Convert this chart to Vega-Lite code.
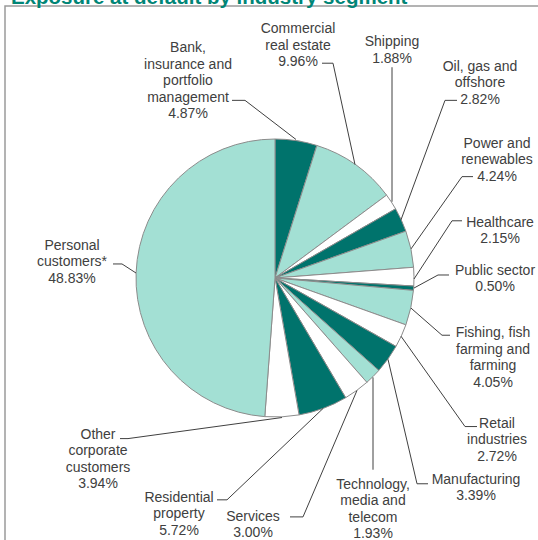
{
  "$schema": "https://vega.github.io/schema/vega-lite/v6.json",
  "width": 538,
  "height": 540,
  "autosize": {"type": "none"},
  "padding": {"left": 5, "top": 6, "right": 0, "bottom": 0},
  "config": {
    "view": {"stroke": "#9a9a9a", "strokeWidth": 1.5},
    "text": {"font": "Liberation Sans"}
  },
  "datasets": {
    "segments": [
      {"rank": 1, "segment": "Bank, insurance and portfolio management", "value": 4.87},
      {"rank": 2, "segment": "Commercial real estate", "value": 9.96},
      {"rank": 3, "segment": "Shipping", "value": 1.88},
      {"rank": 4, "segment": "Oil, gas and offshore", "value": 2.82},
      {"rank": 5, "segment": "Power and renewables", "value": 4.24},
      {"rank": 6, "segment": "Healthcare", "value": 2.15},
      {"rank": 7, "segment": "Public sector", "value": 0.50},
      {"rank": 8, "segment": "Fishing, fish farming and farming", "value": 4.05},
      {"rank": 9, "segment": "Retail industries", "value": 2.72},
      {"rank": 10, "segment": "Manufacturing", "value": 3.39},
      {"rank": 11, "segment": "Technology, media and telecom", "value": 1.93},
      {"rank": 12, "segment": "Services", "value": 3.00},
      {"rank": 13, "segment": "Residential property", "value": 5.72},
      {"rank": 14, "segment": "Other corporate customers", "value": 3.94},
      {"rank": 15, "segment": "Personal customers*", "value": 48.83}
    ],
    "heading": [
      {"text": "Exposure at default by industry segment", "lx": -264, "ly": 272.5}
    ],
    "labels": [
      {"label": "Bank,|insurance and|portfolio|management|4.87%", "lx": -87, "ly": 229},
      {"label": "Commercial|real estate|9.96%", "lx": 23, "ly": 248},
      {"label": "Shipping|1.88%", "lx": 117, "ly": 235},
      {"label": "Oil, gas and|offshore|2.82%", "lx": 205, "ly": 210.5},
      {"label": "Power and|renewables|4.24%", "lx": 222, "ly": 134},
      {"label": "Healthcare|2.15%", "lx": 225, "ly": 55},
      {"label": "Public sector|0.50%", "lx": 220, "ly": 7},
      {"label": "Fishing, fish|farming and|farming|4.05%", "lx": 218, "ly": -55},
      {"label": "Retail|industries|2.72%", "lx": 222, "ly": -145},
      {"label": "Manufacturing|3.39%", "lx": 201, "ly": -201},
      {"label": "Technology,|media and|telecom|1.93%", "lx": 98, "ly": -206},
      {"label": "Services|3.00%", "lx": -22, "ly": -238},
      {"label": "Residential|property|5.72%", "lx": -96, "ly": -219},
      {"label": "Other|corporate|customers|3.94%", "lx": -177, "ly": -156},
      {"label": "Personal|customers*|48.83%", "lx": -203, "ly": 32}
    ],
    "leaders": [
      {"seg": "bank", "pt": 1, "lx": -43, "ly": 177},
      {"seg": "bank", "pt": 2, "lx": -30, "ly": 177},
      {"seg": "bank", "pt": 3, "lx": 21, "ly": 138},
      {"seg": "cre", "pt": 1, "lx": 47, "ly": 214},
      {"seg": "cre", "pt": 2, "lx": 58, "ly": 214},
      {"seg": "cre", "pt": 3, "lx": 80, "ly": 113},
      {"seg": "ship", "pt": 1, "lx": 117, "ly": 210},
      {"seg": "ship", "pt": 2, "lx": 117, "ly": 76},
      {"seg": "oil", "pt": 1, "lx": 182, "ly": 177},
      {"seg": "oil", "pt": 2, "lx": 170, "ly": 177},
      {"seg": "oil", "pt": 3, "lx": 126, "ly": 58},
      {"seg": "power", "pt": 1, "lx": 198, "ly": 101},
      {"seg": "power", "pt": 2, "lx": 187, "ly": 101},
      {"seg": "power", "pt": 3, "lx": 136, "ly": 29},
      {"seg": "health", "pt": 1, "lx": 187, "ly": 57},
      {"seg": "health", "pt": 2, "lx": 177, "ly": 57},
      {"seg": "health", "pt": 3, "lx": 139, "ly": -1},
      {"seg": "public", "pt": 1, "lx": 174, "ly": 3},
      {"seg": "public", "pt": 2, "lx": 163, "ly": 3},
      {"seg": "public", "pt": 3, "lx": 139, "ly": -10},
      {"seg": "fish", "pt": 1, "lx": 175, "ly": -57},
      {"seg": "fish", "pt": 2, "lx": 167, "ly": -57},
      {"seg": "fish", "pt": 3, "lx": 136, "ly": -30},
      {"seg": "retail", "pt": 1, "lx": 202, "ly": -148},
      {"seg": "retail", "pt": 2, "lx": 190, "ly": -148},
      {"seg": "retail", "pt": 3, "lx": 126, "ly": -58},
      {"seg": "manuf", "pt": 1, "lx": 153, "ly": -205},
      {"seg": "manuf", "pt": 2, "lx": 142, "ly": -205},
      {"seg": "manuf", "pt": 3, "lx": 113, "ly": -81},
      {"seg": "tech", "pt": 1, "lx": 98, "ly": -191},
      {"seg": "tech", "pt": 2, "lx": 98, "ly": -99},
      {"seg": "serv", "pt": 1, "lx": 15, "ly": -238},
      {"seg": "serv", "pt": 2, "lx": 28, "ly": -238},
      {"seg": "serv", "pt": 3, "lx": 82, "ly": -112},
      {"seg": "resid", "pt": 1, "lx": -58, "ly": -221},
      {"seg": "resid", "pt": 2, "lx": -48, "ly": -221},
      {"seg": "resid", "pt": 3, "lx": 48, "ly": -130},
      {"seg": "other", "pt": 1, "lx": -155, "ly": -160},
      {"seg": "other", "pt": 2, "lx": -147, "ly": -160},
      {"seg": "other", "pt": 3, "lx": 7, "ly": -139},
      {"seg": "pers", "pt": 1, "lx": -162, "ly": 14},
      {"seg": "pers", "pt": 2, "lx": -153, "ly": 14},
      {"seg": "pers", "pt": 3, "lx": -139, "ly": 5}
    ]
  },
  "resolve": {"scale": {"color": "independent"}},
  "layer": [
    {
      "data": {"name": "segments"},
      "mark": {"type": "arc", "outerRadius": 139, "stroke": "#8c8c8c", "strokeWidth": 1},
      "encoding": {
        "x": {"datum": 0, "type": "quantitative", "scale": {"domain": [-270, 268], "nice": false, "zero": false}, "axis": null},
        "y": {"datum": 0, "type": "quantitative", "scale": {"domain": [-267, 271], "nice": false, "zero": false}, "axis": null},
        "theta": {"field": "value", "type": "quantitative", "stack": true},
        "order": {"field": "rank", "type": "quantitative"},
        "color": {
          "field": "segment",
          "type": "nominal",
          "legend": null,
          "scale": {
            "domain": [
              "Bank, insurance and portfolio management",
              "Commercial real estate",
              "Shipping",
              "Oil, gas and offshore",
              "Power and renewables",
              "Healthcare",
              "Public sector",
              "Fishing, fish farming and farming",
              "Retail industries",
              "Manufacturing",
              "Technology, media and telecom",
              "Services",
              "Residential property",
              "Other corporate customers",
              "Personal customers*"
            ],
            "range": [
              "#00736c", "#a3e0d4", "#ffffff",
              "#00736c", "#a3e0d4", "#ffffff",
              "#00736c", "#a3e0d4", "#ffffff",
              "#00736c", "#a3e0d4", "#ffffff",
              "#00736c", "#ffffff", "#a3e0d4"
            ]
          }
        }
      }
    },
    {
      "data": {"name": "leaders"},
      "mark": {"type": "line", "color": "#404040", "strokeWidth": 1},
      "encoding": {
        "x": {"field": "lx", "type": "quantitative"},
        "y": {"field": "ly", "type": "quantitative"},
        "detail": {"field": "seg", "type": "nominal"},
        "order": {"field": "pt", "type": "quantitative"}
      }
    },
    {
      "data": {"name": "labels"},
      "mark": {"type": "text", "align": "center", "baseline": "middle", "lineBreak": "|", "lineHeight": 16.5, "fontSize": 14, "color": "#404040"},
      "encoding": {
        "x": {"field": "lx", "type": "quantitative"},
        "y": {"field": "ly", "type": "quantitative"},
        "text": {"field": "label", "type": "nominal"}
      }
    },
    {
      "data": {"name": "heading"},
      "mark": {"type": "text", "align": "left", "baseline": "alphabetic", "fontSize": 20.5, "fontWeight": "bold", "color": "#008576"},
      "encoding": {
        "x": {"field": "lx", "type": "quantitative"},
        "y": {"field": "ly", "type": "quantitative"},
        "text": {"field": "text", "type": "nominal"}
      }
    }
  ]
}
